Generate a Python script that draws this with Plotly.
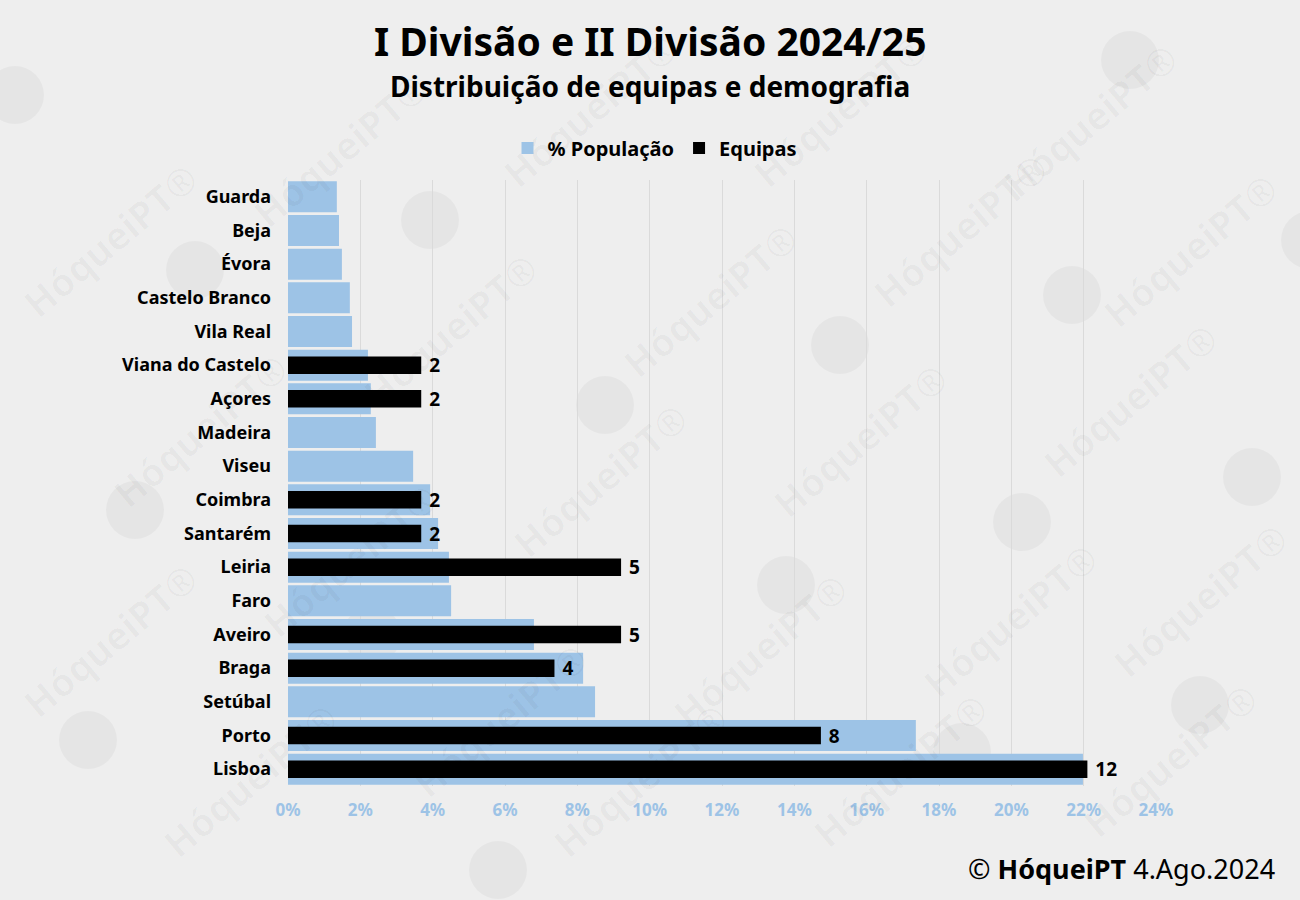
import plotly.graph_objects as go

regions = ["Guarda", "Beja", "Évora", "Castelo Branco", "Vila Real", "Viana do Castelo",
           "Açores", "Madeira", "Viseu", "Coimbra", "Santarém", "Leiria", "Faro",
           "Aveiro", "Braga", "Setúbal", "Porto", "Lisboa"]
populacao = [1.35, 1.41, 1.49, 1.71, 1.77, 2.21, 2.29, 2.43, 3.46, 3.93, 4.15, 4.45, 4.51,
             6.80, 8.16, 8.49, 17.36, 21.98]
equipas = [None, None, None, None, None, 2, 2, None, None, 2, 2, 5, None, 5, 4, None, 8, 12]
tick_vals = [0, 2, 4, 6, 8, 10, 12, 14, 16, 18, 20, 22, 24]
tick_text = [f"{v}%" for v in tick_vals]

W, H = 1300, 900
L, R, T, B = 288, 144, 180, 114
PW, PH = W - L - R, H - T - B

def px(x, y):
    return (x - L) / PW, (H - B - y) / PH

BLUE = "#9dc3e6"
FONT = "Noto Sans"

fig = go.Figure()
fig.add_trace(go.Bar(
    y=regions, x=populacao, orientation="h", name="% População",
    marker=dict(color=BLUE, line=dict(width=0)), width=0.92,
    xaxis="x", yaxis="y", hoverinfo="skip"))
fig.add_trace(go.Bar(
    y=regions, x=equipas, orientation="h", name="Equipas",
    marker=dict(color="#000000", line=dict(width=0)), width=0.52,
    xaxis="x2", yaxis="y", text=equipas, texttemplate=" %{x}",
    textposition="outside", cliponaxis=False, constraintext="none",
    textfont=dict(family=FONT, size=19, color="#000000", weight="bold"),
    hoverinfo="skip"))

annotations = []
shapes = []

# watermark (decoration), kept inside the canvas
wm_text_pos = [(110, 240), (340, 150), (590, 110), (840, 110), (1090, 120),
               (200, 430), (450, 330), (710, 300), (960, 230), (1190, 250),
               (110, 640), (350, 560), (600, 480), (860, 440), (1130, 400),
               (250, 780), (500, 720), (760, 650), (1010, 620), (1200, 600),
               (640, 780), (900, 770), (1170, 760)]
for (x, y) in wm_text_pos:
    xp, yp = px(x, y)
    annotations.append(dict(x=xp, y=yp, xref="paper", yref="paper", text="HóqueiPT®",
                            xanchor="center", yanchor="middle",
                            showarrow=False, textangle=-40,
                            font=dict(family=FONT, size=38, color="rgba(0,0,0,0.028)", weight="bold")))
wm_circles = [(15, 95), (1130, 60), (430, 220), (1310, 240), (1072, 295), (840, 345),
              (605, 405), (135, 510), (1022, 522), (1252, 477), (786, 585), (372, 635),
              (1200, 705), (88, 740), (962, 752), (498, 870), (195, 270)]
for (x, y) in wm_circles:
    x0, y0 = px(x - 29, y - 29)
    x1, y1 = px(x + 29, y + 29)
    shapes.append(dict(type="circle", xref="paper", yref="paper", x0=x0, x1=x1, y0=y1, y1=y0,
                       fillcolor="rgba(0,0,0,0.035)", line=dict(width=0), layer="below"))

# titles
tx, ty = px(650, 40)
annotations.append(dict(x=tx, y=ty, xref="paper", yref="paper", text="I Divisão e II Divisão 2024/25",
                        xanchor="center", yanchor="middle",
                        showarrow=False, font=dict(family=FONT, size=39, color="#000000", weight="bold")))
tx, ty = px(650, 86)
annotations.append(dict(x=tx, y=ty, xref="paper", yref="paper", text="Distribuição de equipas e demografia",
                        xanchor="center", yanchor="middle",
                        showarrow=False, font=dict(family=FONT, size=28, color="#000000", weight="bold")))
tx, ty = px(1277, 868)
annotations.append(dict(x=tx, y=ty, xref="paper", yref="paper", xanchor="right", yanchor="middle",
                        text="© <b>HóqueiPT</b> 4.Ago.2024",
                        showarrow=False, font=dict(family=FONT, size=27, color="#000000")))

lx, ly = px(655, 148)
fig.update_layout(
    width=W, height=H,
    margin=dict(l=L, r=R, t=T, b=B),
    paper_bgcolor="#eeeeee", plot_bgcolor="#eeeeee",
    barmode="overlay",
    showlegend=True,
    legend=dict(orientation="h", x=lx, y=ly, xanchor="center", yanchor="middle",
                font=dict(family=FONT, size=20, color="#000000", weight="bold"),
                itemwidth=30, bgcolor="rgba(0,0,0,0)", traceorder="normal"),
    xaxis=dict(range=[0, 24], tickvals=tick_vals, ticktext=tick_text, showgrid=True,
               gridcolor="#dadada", gridwidth=1, zeroline=False, showline=False,
               tickfont=dict(family=FONT, size=17, color=BLUE, weight="bold"), ticks="",
               ticklabelstandoff=12, fixedrange=True),
    xaxis2=dict(range=[0, 13.03], overlaying="x", side="top", visible=False, fixedrange=True),
    yaxis=dict(categoryorder="array", categoryarray=regions, range=[17.5, -0.5],
               showgrid=False, zeroline=False, showline=False, ticks="",
               tickfont=dict(family=FONT, size=18, color="#000000", weight="bold"),
               ticklabelstandoff=16, autorange=False, fixedrange=True),
    font=dict(family=FONT),
    annotations=annotations,
    shapes=shapes,
)

fig.write_html("out.html", config={"displayModeBar": False},
               post_script="document.body.style.margin='0';document.body.style.overflow='hidden';")
